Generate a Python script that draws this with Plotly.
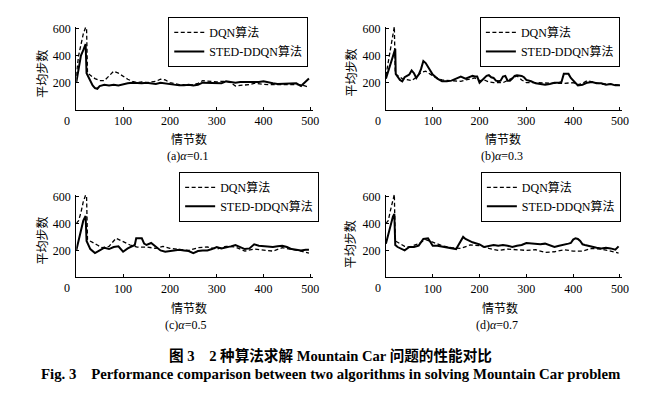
import plotly.graph_objects as go

# ---------------- data ----------------
a_dqn_x = [0,5,10,15,20,22,24,30,40,50,60,70,80,90,100,110,120,130,140,150,160,170,180,190,200,210,220,230,240,250,260,270,280,290,300,310,320,330,340,350,360,370,380,390,400,410,420,430,440,450,460,470,480,490,497]
a_dqn_y = [250,400,480,560,610,600,270,255,230,215,215,250,285,270,245,225,210,200,205,200,205,210,225,220,200,190,185,185,180,185,195,215,210,205,205,210,210,200,175,180,180,185,195,190,185,185,185,185,190,190,185,190,185,175,165]
a_sted_x = [0,5,10,15,20,22,25,30,35,40,45,50,60,70,80,90,100,110,120,130,140,150,160,170,180,190,200,210,220,230,240,250,260,270,280,290,300,310,320,330,340,350,360,370,380,390,400,410,420,430,440,450,460,470,480,490,497]
a_sted_y = [200,300,400,440,485,270,250,205,180,160,155,175,185,180,185,180,190,195,200,195,195,200,195,190,200,195,190,180,180,180,185,180,185,200,200,195,200,195,210,205,200,205,205,200,205,205,210,200,195,190,190,190,195,195,175,210,230]

b_dqn_x = [0,5,10,15,18,20,25,30,35,45,55,65,75,85,95,105,120,140,160,170,180,190,200,210,220,230,250,260,270,280,290,300,320,340,360,380,400,410,420,430,440,450,460,470,480,490,500]
b_dqn_y = [250,350,450,580,615,265,250,240,230,220,215,240,275,285,265,240,220,215,210,220,225,235,215,220,205,200,200,215,235,250,220,200,200,195,195,195,200,185,195,215,205,200,190,190,190,185,180]
b_sted_x = [0,5,10,15,20,21,25,30,35,40,45,50,55,60,65,70,75,80,85,90,95,100,110,120,130,140,150,160,170,180,185,190,195,200,205,210,215,220,225,230,235,240,245,250,255,260,265,270,275,280,285,290,295,300,310,320,330,340,350,360,370,375,380,385,390,395,400,410,420,430,440,450,460,470,480,490,500]
b_sted_y = [230,290,350,400,450,265,240,220,210,240,250,260,290,270,235,260,300,360,345,315,280,260,230,210,210,215,230,245,230,245,250,245,245,200,215,230,250,255,240,235,215,210,215,245,250,215,215,230,250,255,255,250,240,220,210,195,190,185,190,200,200,205,265,265,265,235,215,180,185,200,205,195,195,185,190,180,180]

c_dqn_x = [0,5,10,15,20,22,24,30,35,45,55,70,85,100,115,130,150,170,185,200,220,240,260,280,300,320,340,360,380,400,420,440,460,480,497]
c_dqn_y = [400,420,480,560,610,600,280,270,260,240,220,230,290,265,240,225,225,215,230,215,205,200,220,225,210,230,225,195,210,200,195,220,210,195,180]
c_sted_x = [0,5,10,15,20,22,30,40,50,60,70,80,90,100,110,120,125,128,140,145,150,160,170,180,190,200,210,220,230,240,250,260,270,280,290,300,310,320,330,340,350,360,370,380,390,400,410,420,430,440,450,460,470,480,490,497]
c_sted_y = [200,280,360,420,455,270,210,180,200,220,210,225,230,190,215,230,240,290,290,250,240,255,230,200,190,195,200,205,200,195,180,195,200,200,210,225,215,220,230,240,225,210,215,245,235,230,225,225,230,235,225,210,205,200,205,205]

d_dqn_x = [0,5,10,15,18,20,25,30,40,50,70,85,100,120,140,160,180,200,220,240,260,280,300,320,340,360,380,400,420,440,460,480,497]
d_dqn_y = [400,420,500,580,615,270,260,250,230,225,250,280,260,235,220,215,240,235,215,200,210,205,200,205,185,190,205,195,195,215,210,195,180]
d_sted_x = [0,5,10,15,18,20,25,30,40,50,60,70,80,90,95,100,110,120,130,140,150,155,160,165,170,175,180,185,190,200,210,220,230,240,250,260,270,280,290,300,310,320,330,340,350,360,370,380,390,395,400,405,410,415,420,425,430,440,450,460,470,480,490,497]
d_sted_y = [250,320,400,450,470,240,225,215,200,225,225,235,285,290,265,235,235,230,225,215,210,240,270,300,285,275,270,260,255,245,225,230,240,235,240,235,225,235,240,255,250,245,245,250,240,225,235,240,250,255,280,290,285,270,245,240,235,230,220,215,220,215,205,230]

series_names = ["DQN算法", "STED-DDQN算法"]
panel_captions = ["(a)<i>α</i>=0.1", "(b)<i>α</i>=0.3", "(c)<i>α</i>=0.5", "(d)<i>α</i>=0.7"]
x_ticks = [100, 200, 300, 400, 500]
y_ticks = [200, 400, 600]
x_title = "情节数"
y_title = "平均步数"
fig_title_cn = "图 3\u00a0\u00a0\u00a0 2 种算法求解 Mountain Car 问题的性能对比"
fig_title_en = "Fig. 3\u00a0\u00a0\u00a0 Performance comparison between two algorithms in solving Mountain Car problem"

panels = [
    (a_dqn_x, a_dqn_y, a_sted_x, a_sted_y),
    (b_dqn_x, b_dqn_y, b_sted_x, b_sted_y),
    (c_dqn_x, c_dqn_y, c_sted_x, c_sted_y),
    (d_dqn_x, d_dqn_y, d_sted_x, d_sted_y),
]

# ---------------- layout geometry (window pixels) ----------------
# the page body has an 8px margin, so the figure is 16px smaller than the window
OFF = 8
W, H = 668 - 2 * OFF, 394 - 2 * OFF
FONT = "'Liberation Serif', 'Times New Roman', 'Noto Sans CJK SC', serif"
CJK = "'Noto Sans CJK SC', 'Liberation Serif', sans-serif"

geo = [
    dict(x0=77, x1=316, top=22, bot=106, leg=(170, 12), zero=(68, 117),
         xt=(191, 135), cap=(189, 153), yt=(42, 70)),
    dict(x0=390, x1=629, top=22, bot=106, leg=(485, 12), zero=(382, 117),
         xt=(508, 135), cap=(507, 153), yt=(354, 68)),
    dict(x0=77, x1=316, top=192, bot=276, leg=(181, 169), zero=(68, 287),
         xt=(191, 306), cap=(187, 324), yt=(42, 239)),
    dict(x0=390, x1=629, top=192, bot=276, leg=(486, 169), zero=(382, 287),
         xt=(505, 306), cap=(502, 324), yt=(354, 242)),
]

def px(x):
    return (x - OFF) / W

def py(y):
    return 1 - (y - OFF) / H

fig = go.Figure()
annotations = []
layout = {}

for i, (dx, dy, sx, sy) in enumerate(panels):
    n = i + 1
    xa = "x" if n == 1 else f"x{n}"
    ya = "y" if n == 1 else f"y{n}"
    lg = "legend" if n == 1 else f"legend{n}"
    g = geo[i]
    fig.add_trace(go.Scatter(x=dx, y=dy, mode="lines", name=series_names[0],
                             line=dict(color="black", width=1.3, dash="4px,2.5px"),
                             xaxis=xa, yaxis=ya, legend=lg))
    fig.add_trace(go.Scatter(x=sx, y=sy, mode="lines", name=series_names[1],
                             line=dict(color="black", width=2),
                             xaxis=xa, yaxis=ya, legend=lg))
    axkey_x = "xaxis" if n == 1 else f"xaxis{n}"
    axkey_y = "yaxis" if n == 1 else f"yaxis{n}"
    layout[axkey_x] = dict(
        domain=[px(g["x0"]), px(g["x1"])], range=[0, 505], anchor=ya,
        tickvals=x_ticks, ticktext=[str(v) for v in x_ticks],
        ticks="inside", ticklen=3, tickcolor="black",
        showline=True, linecolor="black", linewidth=1,
        showgrid=False, zeroline=False,
        tickfont=dict(family=FONT, size=12, color="black"),
    )
    layout[axkey_y] = dict(
        domain=[py(g["bot"]), py(g["top"])], range=[0, 613], anchor=xa,
        tickvals=y_ticks, ticktext=[str(v) for v in y_ticks],
        ticks="inside", ticklen=3, tickcolor="black",
        showline=True, linecolor="black", linewidth=1,
        showgrid=False, zeroline=False, ticklabelstandoff=2,
        tickfont=dict(family=FONT, size=12, color="black"),
    )
    layout[lg] = dict(
        x=px(g["leg"][0]), y=py(g["leg"][1]), xanchor="left", yanchor="top",
        xref="paper", yref="paper",
        bgcolor="white", bordercolor="black", borderwidth=1,
        font=dict(family=FONT, size=12, color="black"),
        itemwidth=30, tracegroupgap=0,
    )
    annotations.append(dict(text="0", x=px(g["zero"][0]), y=py(g["zero"][1]),
                            xref="paper", yref="paper", showarrow=False,
                            xanchor="center", yanchor="middle",
                            font=dict(family=FONT, size=12, color="black")))
    annotations.append(dict(text=x_title, x=px(g["xt"][0]), y=py(g["xt"][1]),
                            xref="paper", yref="paper", showarrow=False,
                            xanchor="center", yanchor="middle",
                            font=dict(family=CJK, size=12, color="black")))
    annotations.append(dict(text=y_title, x=px(g["yt"][0]), y=py(g["yt"][1]),
                            xref="paper", yref="paper", showarrow=False,
                            xanchor="center", yanchor="middle", textangle=-90,
                            font=dict(family=CJK, size=12, color="black")))
    annotations.append(dict(text=panel_captions[i], x=px(g["cap"][0]), y=py(g["cap"][1]),
                            xref="paper", yref="paper", showarrow=False,
                            xanchor="center", yanchor="middle",
                            font=dict(family=FONT, size=12, color="black")))

annotations.append(dict(text="<b>" + fig_title_cn + "</b>", x=px(334), y=py(355),
                        xref="paper", yref="paper", showarrow=False,
                        xanchor="center", yanchor="middle",
                        font=dict(family=FONT, size=14.6, color="black")))
annotations.append(dict(text="<b>" + fig_title_en + "</b>", x=px(334), y=py(374),
                        xref="paper", yref="paper", showarrow=False,
                        xanchor="center", yanchor="middle",
                        font=dict(family=FONT, size=14.8, color="black")))

fig.update_layout(
    width=W, height=H, margin=dict(l=0, r=0, t=0, b=0),
    paper_bgcolor="white", plot_bgcolor="white",
    showlegend=True, annotations=annotations, **layout,
)

fig.write_html("out.html")
